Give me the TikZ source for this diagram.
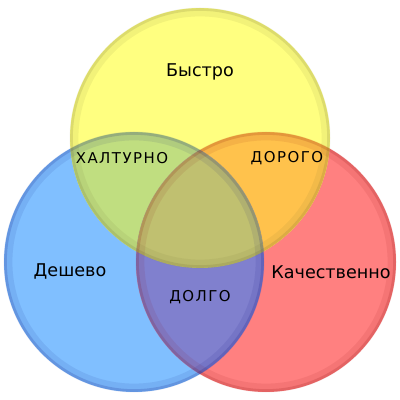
\documentclass[tikz,border=0pt]{standalone}
\usepackage{fontspec}
\setmainfont{DejaVu Sans}
\newfontfamily\capsfont[LetterSpace=10]{DejaVu Sans}
\definecolor{fastyellow}{HTML}{FFFF80}
\definecolor{cheapblue}{HTML}{80BFFF}
\definecolor{goodred}{HTML}{FF8080}
\definecolor{sloppygreen}{HTML}{C0DE80}
\definecolor{pricyorange}{HTML}{FFC24C}
\definecolor{slowpurple}{HTML}{8080CE}
\definecolor{midolive}{HTML}{C0C070}
\tikzset{
  rim/.style={draw=#1, line width=5pt, draw opacity=0.08},
  edge/.style={draw=#1, line width=1.5pt, draw opacity=0.15},
  word/.style={font=\fontsize{10}{12}\selectfont},
  tag/.style={font=\capsfont\fontsize{8.5}{10}\selectfont}
}
\begin{document}
\begin{tikzpicture}
  \useasboundingbox (0,0) rectangle (8,8);
  \coordinate (fast) at (4,5.24);
  \coordinate (cheap) at (2.68,2.76);
  \coordinate (good) at (5.32,2.76);

  % base discs
  \fill[cheapblue] (cheap) circle (2.6);
  \fill[goodred] (good) circle (2.6);
  \fill[fastyellow] (fast) circle (2.6);

  % pairwise overlaps
  \begin{scope}
    \clip (fast) circle (2.6);
    \fill[sloppygreen] (cheap) circle (2.6);
    \fill[pricyorange] (good) circle (2.6);
  \end{scope}
  \begin{scope}
    \clip (cheap) circle (2.6);
    \fill[slowpurple] (good) circle (2.6);
  \end{scope}
  \begin{scope}
    \clip (cheap) circle (2.6);
    \clip (good) circle (2.6);
    \fill[midolive] (fast) circle (2.6);
  \end{scope}

  % soft rims
  \draw[rim=blue!45!black] (cheap) circle (2.52);
  \draw[rim=red!50!black] (good) circle (2.52);
  \draw[rim=olive!60!black] (fast) circle (2.52);
  \draw[edge=blue!45!black] (cheap) circle (2.57);
  \draw[edge=red!50!black] (good) circle (2.57);
  \draw[edge=olive!60!black] (fast) circle (2.57);

  \node[word] (fastlbl) at (4,6.56) {Быстро};
  \node[word] (cheaplbl) at (1.4,2.58) {Дешево};
  \node[word] (goodlbl) at (6.62,2.56) {Качественно};
  \node[tag] (sloppy) at (2.44,4.84) {ХАЛТУРНО};
  \node[tag] (pricy) at (5.74,4.84) {ДОРОГО};
  \node[tag] (slow) at (4,2.06) {ДОЛГО};
\end{tikzpicture}
\end{document}
